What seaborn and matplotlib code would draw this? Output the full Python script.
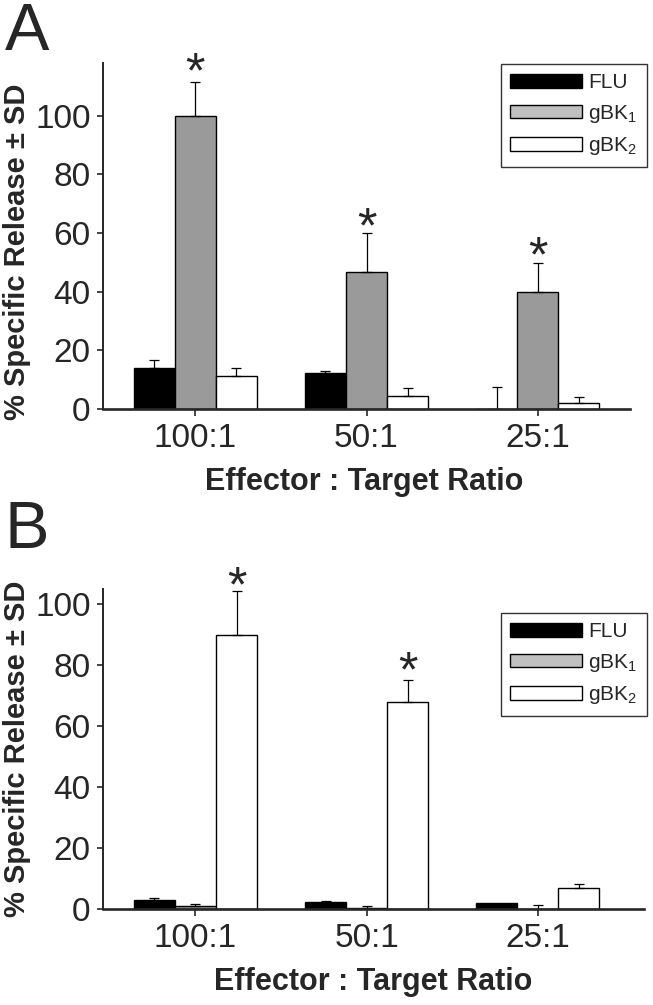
import matplotlib
matplotlib.use('Agg')
import matplotlib.pyplot as plt
import seaborn as sns
import pandas as pd
from matplotlib.patches import Patch

# categories and groups
ratios = ['100:1', '50:1', '25:1']
groups = ['FLU', 'gBK1', 'gBK2']
group_labels = ['FLU', 'gBK$_1$', 'gBK$_2$']

# panel A values (mean and SD)
a_flu = [14.0, 12.2, 0.0]
a_gbk1 = [100.0, 46.6, 40.0]
a_gbk2 = [11.2, 4.4, 2.0]
a_flu_sd = [2.7, 0.9, 7.4]
a_gbk1_sd = [11.5, 13.4, 9.7]
a_gbk2_sd = [2.9, 2.6, 2.1]
a_stars = [118, 65, 55]   # asterisk heights over gBK1

# panel B values (mean and SD)
b_flu = [2.8, 2.4, 2.1]
b_gbk1 = [1.0, 0.4, 0.0]
b_gbk2 = [89.8, 68.0, 7.0]
b_flu_sd = [0.9, 0.3, 0.0]
b_gbk1_sd = [0.7, 0.6, 1.3]
b_gbk2_sd = [14.6, 7.0, 1.1]
b_stars = [109, 81]       # asterisk heights over gBK2

bar_colors = ['#000000', '#9a9a9a', '#ffffff']
legend_colors = ['#000000', '#c0c0c0', '#ffffff']

sans = ['Liberation Sans', 'DejaVu Sans']
sns.set_style('white')
plt.rcParams['font.family'] = sans
plt.rcParams['mathtext.default'] = 'regular'


def make_df(flu, gbk1, gbk2):
    rows = []
    for g, vals in zip(groups, [flu, gbk1, gbk2]):
        for r, v in zip(ratios, vals):
            rows.append({'ratio': r, 'group': g, 'value': v})
    return pd.DataFrame(rows)


def draw_panel(ax, df, sds, ymax, right):
    sns.barplot(data=df, x='ratio', y='value', hue='group', order=ratios,
                hue_order=groups, palette=bar_colors, edgecolor='black',
                linewidth=1.0, width=0.72, errorbar=None, legend=False, ax=ax)
    # upper SD error bars
    for cont, sd in zip(ax.containers, sds):
        for patch, s in zip(cont.patches, sd):
            if s <= 0:
                continue
            xc = patch.get_x() + patch.get_width() / 2
            h = patch.get_height()
            ax.errorbar(xc, h, yerr=[[0], [s]], fmt='none', ecolor='black',
                        elinewidth=0.9, capsize=3.3, capthick=0.9, zorder=1)
    ax.set_ylim(0, ymax)
    ax.set_xlim(-0.54, right)
    ax.set_yticks([0, 20, 40, 60, 80, 100])
    sns.despine(ax=ax)
    ax.spines['bottom'].set_linewidth(1.9)
    ax.spines['left'].set_linewidth(1.4)
    ax.tick_params(axis='y', direction='out', length=4, width=1.2,
                   labelsize=24, pad=5, left=True)
    ax.tick_params(axis='x', direction='out', length=5, width=1.2,
                   labelsize=24, pad=5, bottom=True)
    ax.set_xlabel('Effector : Target Ratio', fontsize=22, fontweight='bold')
    ax.set_ylabel('% Specific Release ± SD', fontsize=21, fontweight='bold')
    handles = [Patch(facecolor=c, edgecolor='black', linewidth=1.0)
               for c in legend_colors]
    return handles


def add_legend(handles, top):
    fig.legend(handles, group_labels, loc='upper left',
               bbox_to_anchor=(501 / 653, 1 - top / 1005), frameon=True,
               fancybox=False, edgecolor='black', fontsize=15,
               handlelength=3.45, handleheight=0.65, labelspacing=0.5,
               handletextpad=0.3, borderpad=0.45, borderaxespad=0)


fig = plt.figure(figsize=(6.53, 10.05), dpi=100)

axA = fig.add_axes([103 / 653, 1 - 409 / 1005, 527 / 653, 346 / 1005])
hA = draw_panel(axA, make_df(a_flu, a_gbk1, a_gbk2),
                [a_flu_sd, a_gbk1_sd, a_gbk2_sd], 118, 2.54)
axA.xaxis.set_label_coords(0.495, -0.168)
axA.yaxis.set_label_coords(-0.137, 0.455)
for i, s in enumerate(a_stars):
    axA.annotate('*', (i, s), xytext=(0, -8), textcoords='offset points',
                 ha='center', va='center', fontsize=36, annotation_clip=False)
add_legend(hA, 64)

axB = fig.add_axes([103 / 653, 1 - 909 / 1005, 541 / 653, 320 / 1005])
hB = draw_panel(axB, make_df(b_flu, b_gbk1, b_gbk2),
                [b_flu_sd, b_gbk1_sd, b_gbk2_sd], 105, 2.62)
axB.xaxis.set_label_coords(0.5, -0.18)
axB.yaxis.set_label_coords(-0.133, 0.5)
for i, s in enumerate(b_stars):
    axB.annotate('*', (i + 0.24, s), xytext=(0, -8), textcoords='offset points',
                 ha='center', va='center', fontsize=36, annotation_clip=False)
add_legend(hB, 613)

fig.text(5 / 653, 1 - 2 / 1005, 'A', fontsize=48, va='top', ha='left')
fig.text(5 / 653, 1 - 500 / 1005, 'B', fontsize=48, va='top', ha='left')

fig.savefig('out.png', dpi=100)
